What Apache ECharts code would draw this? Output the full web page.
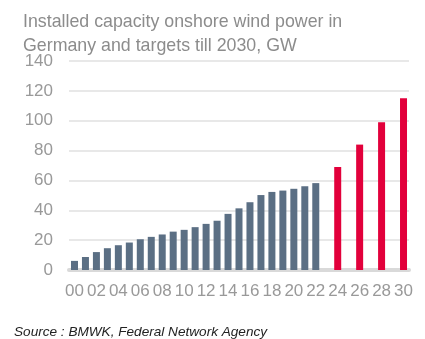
<!DOCTYPE html>
<html>
<head>
    <meta charset="utf-8">
    <script src="https://cdn.jsdelivr.net/npm/echarts@6/dist/echarts.min.js"></script>
    <style>
        body { margin: 0; background: #fff; }
        #chart { width: 425px; height: 339px; }
    </style>
</head>
<body>
    <div id="chart"></div>
    <script type="text/javascript">
        // years 2000..2030, two-digit labels
        var years = ['00','01','02','03','04','05','06','07','08','09','10','11','12','13','14','15',
                     '16','17','18','19','20','21','22','23','24','25','26','27','28','29','30'];
        // installed capacity, GW (2000-2022)
        var installed = [6.1, 8.7, 12.0, 14.6, 16.6, 18.4, 20.6, 22.2, 23.8, 25.7, 26.9, 28.7, 30.9,
                         33.0, 37.6, 41.3, 45.4, 50.2, 52.3, 53.2, 54.4, 56.1, 58.2,
                         '-', '-', '-', '-', '-', '-', '-', '-'];
        // targets, GW
        var targets = ['-', '-', '-', '-', '-', '-', '-', '-', '-', '-', '-', '-', '-', '-', '-', '-',
                       '-', '-', '-', '-', '-', '-', '-', '-', 69, '-', 84, '-', 99, '-', 115];
        var yTicks = [0, 140, 20];

        var myChart = echarts.init(document.getElementById('chart'));
        var option = {
            animation: false,
            textStyle: { fontFamily: 'Liberation Sans' },
            title: [
                {
                    text: 'Installed capacity onshore wind power in\nGermany and targets till 2030, GW',
                    left: 18, top: 5,
                    textStyle: { fontSize: 17.8, fontWeight: 'normal', color: '#8c8c8c', lineHeight: 24 }
                },
                {
                    text: 'Source : BMWK, Federal Network Agency',
                    left: 9, top: 320,
                    textStyle: { fontSize: 13.6, fontWeight: 'normal', fontStyle: 'italic', color: '#222' }
                }
            ],
            grid: { left: 69, right: 16, top: 61, bottom: 69 },
            xAxis: {
                type: 'category',
                data: years,
                axisTick: { show: false },
                axisLine: { lineStyle: { color: '#d9d9d9', width: 4 } },
                axisLabel: { interval: 1, color: '#999', fontSize: 17, margin: 13 }
            },
            yAxis: {
                type: 'value',
                min: yTicks[0], max: yTicks[1], interval: yTicks[2],
                axisLine: { show: false },
                axisTick: { show: false },
                axisLabel: { color: '#999', fontSize: 17, margin: 16 },
                splitLine: { lineStyle: { color: '#e0e0e0', width: 1.5 } }
            },
            series: [
                {
                    name: 'Installed',
                    type: 'bar',
                    data: installed,
                    barWidth: 7,
                    barGap: '-100%',
                    itemStyle: { color: '#5b6f84' }
                },
                {
                    name: 'Target',
                    type: 'bar',
                    data: targets,
                    barWidth: 7,
                    itemStyle: { color: '#e2003b' }
                }
            ]
        };
        myChart.setOption(option);
    </script>
</body>
</html>
